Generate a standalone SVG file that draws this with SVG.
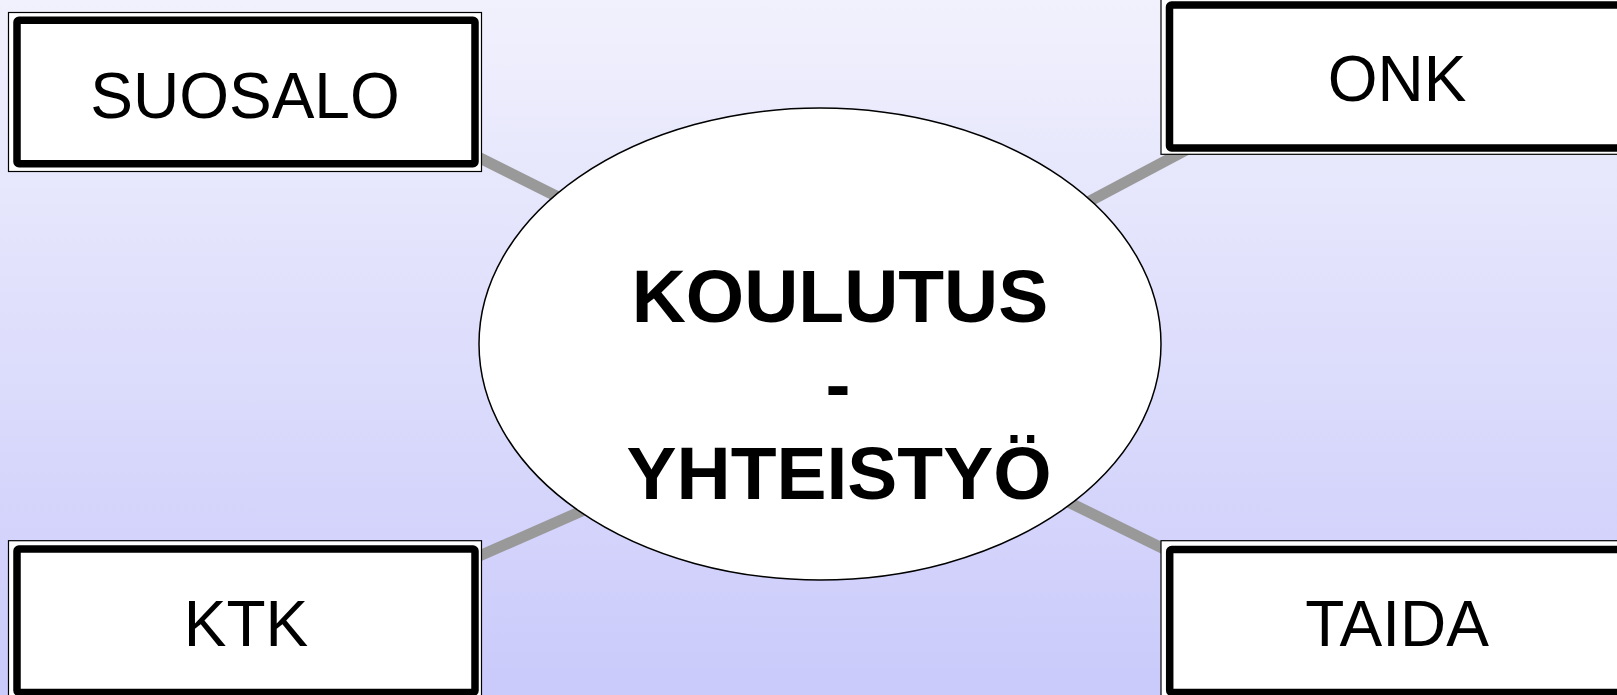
<svg xmlns="http://www.w3.org/2000/svg" width="1617" height="695" viewBox="0 0 1617 695">
<defs>
<linearGradient id="bg" x1="0" y1="0" x2="0" y2="1">
<stop offset="0" stop-color="#f1f1fd"/>
<stop offset="1" stop-color="#cacafb"/>
</linearGradient>
<style>
.outer{fill:#ffffff;stroke:#000000;stroke-width:1.2}
.inner{fill:#ffffff;stroke:#000000;stroke-width:7.5}
.lbl{font-family:"Liberation Sans",Arial,sans-serif;font-size:64px;fill:#000000;text-anchor:middle}
.ctr{font-family:"Liberation Sans",Arial,sans-serif;font-size:75px;font-weight:bold;fill:#000000;text-anchor:middle}
.conn{stroke:#999999;stroke-width:11;fill:none}
</style>
</defs>
<rect x="0" y="0" width="1617" height="695" fill="url(#bg)"/>
<g id="connectors">
<line class="conn" x1="440" y1="138" x2="640" y2="238"/>
<line class="conn" x1="1240" y1="121.4" x2="1000" y2="248.7"/>
<line class="conn" x1="440" y1="573.3" x2="650" y2="481"/>
<line class="conn" x1="1200" y1="566.6" x2="1000" y2="468.6"/>
</g>
<g id="suosalo">
<rect class="outer" x="8.5" y="12.5" width="473" height="159"/>
<rect class="inner" x="17" y="20.3" width="458" height="143.5" rx="2"/>
<text class="lbl" x="245" y="118">SUOSALO</text>
</g>
<g id="onk">
<rect class="outer" x="1161" y="-3" width="470" height="157.3"/>
<rect class="inner" x="1169.5" y="5" width="458" height="143" rx="2"/>
<text class="lbl" x="1397" y="101">ONK</text>
</g>
<g id="ktk">
<rect class="outer" x="8.5" y="540.7" width="473" height="160"/>
<rect class="inner" x="17" y="549" width="458" height="143.5" rx="2"/>
<text class="lbl" x="246" y="646">KTK</text>
</g>
<g id="taida">
<rect class="outer" x="1161" y="540.7" width="470" height="160"/>
<rect class="inner" x="1169.7" y="549.5" width="458" height="143" rx="2"/>
<text class="lbl" x="1397" y="646">TAIDA</text>
</g>
<g id="center">
<ellipse cx="820" cy="344" rx="341" ry="236" fill="#ffffff" stroke="#000000" stroke-width="1.5"/>
<text class="ctr" x="840" y="322">KOULUTUS</text>
<text class="ctr" x="838" y="410">-</text>
<text class="ctr" x="839" y="499">YHTEISTYÖ</text>
</g>
</svg>
